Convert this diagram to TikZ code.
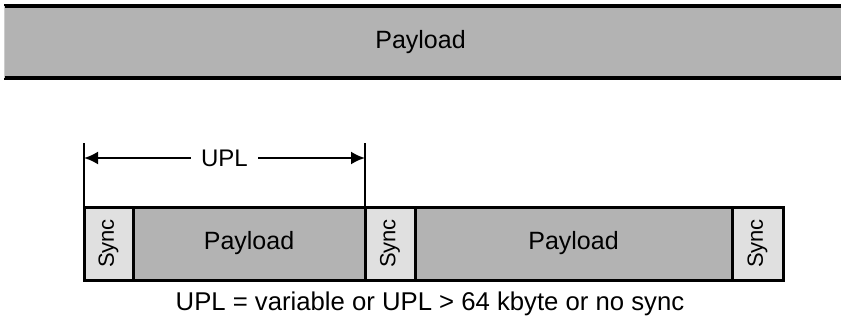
\documentclass[tikz,border=0pt]{standalone}
\usepackage{fontspec}
\setmainfont{Liberation Sans}
\usetikzlibrary{arrows.meta, positioning}

\definecolor{payloadgray}{HTML}{B3B3B3}
\definecolor{syncgray}{HTML}{E0E0E0}

\tikzset{
	field/.style={draw, line width=3pt, outer sep=0pt, inner sep=0pt,
		minimum height=73pt, anchor=north west},
	syncbox/.style={field, fill=syncgray},
	payloadbox/.style={field, fill=payloadgray},
	synclabel/.style={rotate=90, font=\fontsize{22}{26}\selectfont},
	biglabel/.style={font=\fontsize{25}{30}\selectfont},
	upltip/.tip={Latex[length=14pt,width=13pt]},
}

\begin{document}
\begin{tikzpicture}[x=1pt, y=-1pt]
	% параметры
	\def\W{841} % ширина картинки
	\def\H{324} % высота картинки
	\def\T{207} % верх кадра
	\useasboundingbox (0,0) rectangle (\W,\H);

	% верхняя полоса
	\fill[payloadgray] (4,6) rectangle (\W,78);
	\draw[line width=4.5pt] (4,6) -- (\W,6);
	\draw[line width=4.5pt] (4,78) -- (\W,78);
	\draw[gray!40, line width=0.8pt] (4,6) -- (4,78);
	\node[biglabel] (top) at (\W/2,42) {Payload};

	% кадр
	\node[syncbox, minimum width=49pt] (s1) at (84,\T) {};
	\node[payloadbox, minimum width=232pt, right=0pt of s1] (p1) {};
	\node[syncbox, minimum width=50pt, right=0pt of p1] (s2) {};
	\node[payloadbox, minimum width=317pt, right=0pt of s2] (p2) {};
	\node[syncbox, minimum width=51pt, right=0pt of p2] (s3) {};
	\foreach \s in {s1,s2,s3}
		\node[synclabel] at (\s) {Sync};
	\foreach \p in {p1,p2}
		\node[biglabel] at (\p) {Payload};

	% длина UPL
	\coordinate (a) at (84,143);
	\coordinate (b) at (365,143);
	\draw[line width=2.2pt] (a) -- (s1.north west);
	\draw[line width=2.2pt] (b) -- (p1.north east);
	\draw[line width=2.2pt, upltip-upltip]
		([yshift=-15pt]a) -- node[fill=white, inner xsep=10pt, font=\fontsize{24}{28}\selectfont] (upl) {UPL} ([yshift=-15pt]b);

	% подпись
	\node[font=\fontsize{25.7}{30}\selectfont] (note) at (430,304) {UPL = variable or UPL > 64 kbyte or no sync};
\end{tikzpicture}
\end{document}
